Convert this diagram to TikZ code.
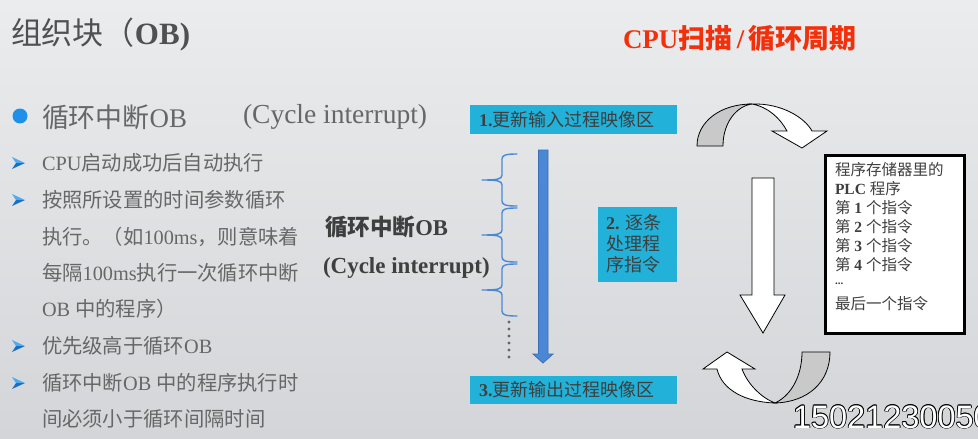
\documentclass[tikz,border=0pt]{standalone}
\usepackage{fontspec}
\setmainfont{Liberation Serif}
\newfontfamily\cjk{Noto Sans CJK SC}
\newfontfamily\plainsans{Liberation Sans}
\newcommand\zh[1]{{\cjk #1}}

\definecolor{bgtop}{HTML}{EBECEE}
\definecolor{bgbot}{HTML}{D3D5D8}
\definecolor{bodygray}{HTML}{676767}
\definecolor{titlegray}{HTML}{505050}
\definecolor{darktext}{HTML}{3F3F3F}
\definecolor{cyanfill}{HTML}{21B1D9}
\definecolor{scanblue}{HTML}{4A88D6}
\definecolor{scanedge}{HTML}{3B6FB5}
\definecolor{dotblue}{HTML}{1E90E8}
\definecolor{dartlight}{HTML}{4FAAF0}
\definecolor{dartdark}{HTML}{1670C8}
\definecolor{alertred}{HTML}{F2310C}
\definecolor{backgray}{HTML}{C9C9C9}

\begin{document}
\begin{tikzpicture}[x=1pt,y=-1pt,
  every node/.style={inner sep=0pt, outer sep=0pt},
  bodytext/.style={anchor=west, text=bodygray, font=\fontsize{20.3}{24}\selectfont},
  cyanbox/.style={fill=cyanfill, anchor=north west},
  boxtext/.style={anchor=west, text=darktext, font=\fontsize{18}{21}\selectfont},
  progline/.style={anchor=west, text=darktext, font=\fontsize{15.5}{19}\selectfont},
  bracepath/.style={draw=scanblue, line width=1.4pt, line cap=round, line join=round},
  outlinearrow/.style={draw=black, line width=0.8pt, line join=miter},
  phonefont/.style={anchor=west, font=\plainsans\fontsize{32.5}{36}\selectfont},
  dart/.pic={
    \fill[dartlight] (-6,-6) -- (7,0) -- (-2,0) -- cycle;
    \fill[dartdark] (-6,6) -- (7,0) -- (-2,0) -- cycle;
  }]

% page and background
\useasboundingbox (0,0) rectangle (978,439);
\shade[top color=bgtop, bottom color=bgbot] (0,0) rectangle (978,439);

% headings
\node[anchor=west, text=titlegray, font=\fontsize{31}{36}\selectfont] (title) at (11,35)
  {\zh{组织块（}\textbf{OB)}};
\node[anchor=west, text=alertred, font=\fontsize{27}{32}\selectfont\bfseries] (cycle-title) at (623,38)
  {CPU\zh{扫描}\,/\,\zh{循环周期}};

% bulleted list
\fill[dotblue] (20,116) circle (7.5);
\node[anchor=west, text=bodygray, font=\fontsize{26.9}{31}\selectfont] (item-main) at (42,117)
  {\zh{循环中断}OB};
\node[anchor=west, text=bodygray, font=\fontsize{27.5}{31}\selectfont] (item-main-en) at (243,117)
  {(Cycle interrupt)};

\pic at (18,163) {dart};
\pic at (18,200) {dart};
\pic at (18,346) {dart};
\pic at (18,383) {dart};

\node[bodytext] (item-a)  at (42,163) {CPU\zh{启动成功后自动执行}};
\node[bodytext] (item-b1) at (42,200) {\zh{按照所设置的时间参数循环}};
\node[bodytext] (item-b2) at (42,237) {\zh{执行。（如}100ms\zh{，则意味着}};
\node[bodytext] (item-b3) at (42,273) {\zh{每隔}100ms\zh{执行一次循环中断}};
\node[bodytext] (item-b4) at (42,309) {OB \zh{中的程序）}};
\node[bodytext] (item-c)  at (42,346) {\zh{优先级高于循环}OB};
\node[bodytext] (item-d1) at (42,383) {\zh{循环中断}OB \zh{中的程序执行时}};
\node[bodytext] (item-d2) at (42,419) {\zh{间必须小于循环间隔时间}};

% cycle interrupt label
\node[anchor=west, text=darktext, font=\fontsize{22.6}{26}\selectfont\bfseries] (ci-label) at (325,227)
  {\zh{循环中断}OB};
\node[anchor=west, text=darktext, font=\fontsize{23}{26}\selectfont\bfseries] (ci-label-en) at (323,268)
  {(Cycle interrupt)};

% scan steps
\node[cyanbox, minimum width=207pt, minimum height=29pt] (upd-in) at (470,105) {};
\node[boxtext] (upd-in-text) at ([xshift=9pt]upd-in.west) {\textbf{1.}\zh{更新输入过程映像区}};
\node[cyanbox, minimum width=79pt, minimum height=75pt] (exec) at (598,207) {};
\node[boxtext] (exec-l1) at (606,223) {\textbf{2.} \zh{逐条}};
\node[boxtext] (exec-l2) at (606,244) {\zh{处理程}};
\node[boxtext] (exec-l3) at (606,265) {\zh{序指令}};
\node[cyanbox, minimum width=207pt, minimum height=28pt] (upd-out) at (470,376) {};
\node[boxtext] (upd-out-text) at ([xshift=9pt]upd-out.west) {\textbf{3.}\zh{更新输出过程映像区}};

% scan direction arrow
\filldraw[fill=scanblue, draw=scanedge, line width=0.8pt, line join=miter]
  (538.5,150) -- (548,150) -- (548,354) -- (553,354) -- (543,363) -- (533,354) -- (538.5,354) -- cycle;

% braces marking interrupt points
\foreach \t/\m/\b [count=\i] in {154/180/206, 208/235/262, 264/290/316}{
  \draw[bracepath] (517,\t) .. controls (506,\t) and (502,\t+1) .. (502,\t+5)
    -- (502,\m-5) .. controls (502,\m-1) and (498,\m) .. (482,\m)
    .. controls (498,\m) and (502,\m+1) .. (502,\m+5)
    -- (502,\b-5) .. controls (502,\b-1) and (506,\b) .. (517,\b);
}
\foreach \k in {0,...,5}{
  \fill[darktext!80] (509,322+7*\k) circle (1.6);
}

% program memory
\node[draw=black, line width=3pt, fill=white, anchor=north west,
      minimum width=139pt, minimum height=178pt] (prog) at (825,155) {};
\node[progline] (prog-l1) at (835,170) {\zh{程序存储器里的}};
\node[progline] (prog-l2) at (835,189) {\textbf{PLC} \zh{程序}};
\node[progline] (prog-l3) at (835,208) {\zh{第} \textbf{1} \zh{个指令}};
\node[progline] (prog-l4) at (835,227) {\zh{第} \textbf{2} \zh{个指令}};
\node[progline] (prog-l5) at (835,246) {\zh{第} \textbf{3} \zh{个指令}};
\node[progline] (prog-l6) at (835,265) {\zh{第} \textbf{4} \zh{个指令}};
\node[progline, font=\fontsize{11}{12}\selectfont\bfseries] (prog-l7) at (835,284) {...};
\node[progline] (prog-l8) at (835,304) {\zh{最后一个指令}};

% curved arrow into the program
\filldraw[outlinearrow, fill=backgray]
  (697,146) .. controls (697,122) and (720,104) .. (752,104)
  .. controls (737,106) and (723,122) .. (723,146) -- cycle;
\filldraw[outlinearrow, fill=white]
  (752,104) .. controls (782,103) and (805,118) .. (812,131)
  -- (827,131) -- (802,148) -- (772,131) -- (787,131)
  .. controls (780,118) and (768,107) .. (752,104) -- cycle;

% straight arrow through the program
\filldraw[outlinearrow, fill=white]
  (752,178) -- (774,178) -- (774,295) -- (785,295) -- (763,333) -- (740,295) -- (752,295) -- cycle;

% curved arrow back to the start
\filldraw[outlinearrow, fill=backgray]
  (802,352) -- (830,352) .. controls (830,382) and (808,402) .. (775,403)
  .. controls (792,395) and (802,375) .. (802,352) -- cycle;
\filldraw[outlinearrow, fill=white]
  (775,403) .. controls (745,402) and (722,390) .. (717,369)
  -- (703,369) -- (727,352) -- (755,369) -- (742,369)
  .. controls (748,385) and (762,398) .. (775,403) -- cycle;

% outlined number, running off the right edge
\foreach \dx/\dy [count=\j] in {-0.8/0, 0.8/0, 0/-0.8, 0/0.8, -0.6/-0.6, 0.6/-0.6, -0.6/0.6, 0.6/0.6}{
  \node[phonefont, text=black] (phone-edge-\j) at (793+\dx,417+\dy) {15021230050};
}
\node[phonefont, text=white] (phone) at (793,417) {15021230050};
\end{tikzpicture}
\end{document}
